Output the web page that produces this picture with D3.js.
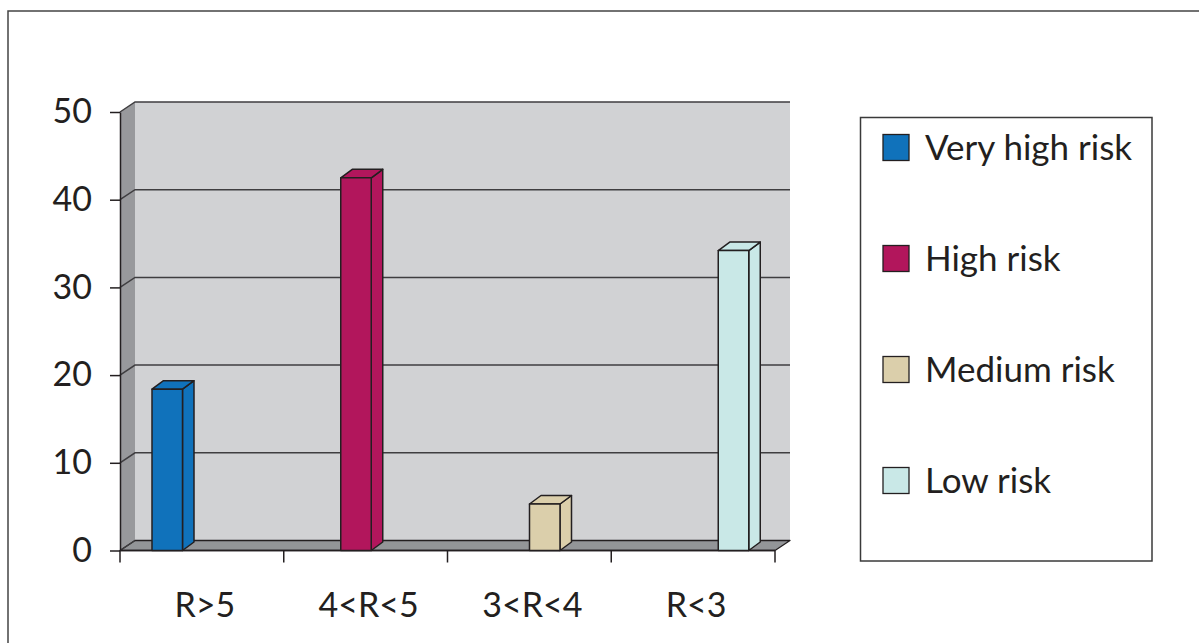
<!DOCTYPE html>
<html>
<head>
<meta charset="utf-8">
<script src="https://cdn.jsdelivr.net/npm/d3@7"></script>
<style>
  html, body { margin: 0; padding: 0; background: #fff; }
  svg { display: block; }
  text { font-family: Lato, "Open Sans", sans-serif; fill: #231f20; }
</style>
</head>
<body>
<svg id="chart" width="1199" height="643"></svg>
<script>
// ---- data ----
const categories = ["R>5", "4<R<5", "3<R<4", "R<3"];
const seriesNames = ["Very high risk", "High risk", "Medium risk", "Low risk"];
const seriesValues = [18.4, 42.5, 5.3, 34.2];   // each series has a value only in its own category
const seriesCategory = ["R>5", "4<R<5", "3<R<4", "R<3"];
const seriesColors = ["#1072bb", "#b2165c", "#dbcfab", "#c9e8e7"];
const yTickValues = [0, 10, 20, 30, 40, 50];

// ---- layout ----
const svg = d3.select("#chart");
const W = 1199, H = 643;
const line = "#231f20";
const wallDepth = { dx: 15, dy: -10 };
const barDepth = { dx: 11.5, dy: -8.5 };
const barWidth = 30.5;

const x = d3.scaleBand().domain(categories).range([120, 775]).padding(0);
const inner = d3.scalePoint().domain(seriesNames).range([32, 107]);
const y = d3.scaleLinear().domain([0, 50]).range([550.5, 112]);

const x0 = x.range()[0], x1 = x.range()[1];
const yb = y(0), yt = y(50);

// outer frame (top + left)
svg.append("path")
  .attr("d", `M8,${H}V11H${W}`)
  .attr("fill", "none").attr("stroke", "#444").attr("stroke-width", 1.5);

// back wall
svg.append("rect")
  .attr("x", x0 + wallDepth.dx).attr("y", yt + wallDepth.dy)
  .attr("width", x1 - x0).attr("height", yb - yt)
  .attr("fill", "#d1d2d4");

// side wall
svg.append("polygon")
  .attr("points", [[x0, yt], [x0 + wallDepth.dx, yt + wallDepth.dy],
                   [x0 + wallDepth.dx, yb + wallDepth.dy], [x0, yb]].join(" "))
  .attr("fill", "#98999c");

// floor
svg.append("polygon")
  .attr("points", [[x0, yb], [x0 + wallDepth.dx, yb + wallDepth.dy],
                   [x1 + wallDepth.dx, yb + wallDepth.dy], [x1, yb]].join(" "))
  .attr("fill", "#939598")
  .attr("stroke", line).attr("stroke-width", 1.3).attr("stroke-linejoin", "round");

// gridlines (back wall + side wall diagonal)
const grid = svg.append("g");
yTickValues.forEach(v => {
  const yy = y(v);
  grid.append("path")
    .attr("d", `M${x0},${yy}L${x0 + wallDepth.dx},${yy + wallDepth.dy}` +
               (v > 0 ? `H${x1 + wallDepth.dx}` : ""))
    .attr("fill", "none").attr("stroke", "#3f3e40").attr("stroke-width", 1.5);
});

// y axis
const yAxis = svg.append("g")
  .attr("transform", `translate(${x0},0)`)
  .call(d3.axisLeft(y).tickValues(yTickValues).tickSize(10).tickSizeOuter(0).tickPadding(18));
yAxis.select(".domain").attr("stroke", line).attr("stroke-width", 1.5);
yAxis.selectAll(".tick line").attr("stroke", line).attr("stroke-width", 1.5);
yAxis.selectAll(".tick text")
  .style("font-family", "Lato, 'Open Sans', sans-serif")
  .attr("font-size", 34).attr("fill", "#231f20");

// x axis: baseline, ticks at band edges, labels centered
svg.append("line")
  .attr("x1", x0).attr("x2", x1).attr("y1", yb).attr("y2", yb)
  .attr("stroke", line).attr("stroke-width", 1.5);
const edges = categories.map(c => x(c)).concat([x1]);
svg.selectAll(".xtick").data(edges).join("line")
  .attr("class", "xtick")
  .attr("x1", d => d).attr("x2", d => d)
  .attr("y1", yb).attr("y2", yb + 12)
  .attr("stroke", line).attr("stroke-width", 1.5);
svg.selectAll(".xlabel").data(categories).join("text")
  .attr("class", "xlabel")
  .attr("x", d => x(d) + x.bandwidth() / 2 + 3)
  .attr("y", 617)
  .attr("text-anchor", "middle")
  .attr("font-size", 34)
  .text(d => d);

// 3D bars
const bars = seriesNames.map((s, i) => ({
  name: s, value: seriesValues[i], cat: seriesCategory[i], color: seriesColors[i]
}));
const barG = svg.append("g");
bars.forEach(b => {
  const bx = x(b.cat) + inner(b.name);
  const by = y(b.value);
  const g = barG.append("g")
    .attr("fill", b.color).attr("stroke", line).attr("stroke-width", 1.5)
    .attr("stroke-linejoin", "round");
  // side face
  g.append("polygon").attr("points", [
    [bx + barWidth, yb], [bx + barWidth + barDepth.dx, yb + barDepth.dy],
    [bx + barWidth + barDepth.dx, by + barDepth.dy], [bx + barWidth, by]].join(" "));
  // top face
  g.append("polygon").attr("points", [
    [bx, by], [bx + barDepth.dx, by + barDepth.dy],
    [bx + barWidth + barDepth.dx, by + barDepth.dy], [bx + barWidth, by]].join(" "));
  // front face
  g.append("rect").attr("x", bx).attr("y", by)
    .attr("width", barWidth).attr("height", yb - by);
});

// legend
const legend = svg.append("g");
legend.append("rect")
  .attr("x", 860.5).attr("y", 117.5).attr("width", 291.5).attr("height", 443.5)
  .attr("fill", "#fff").attr("stroke", "#3a3a3a").attr("stroke-width", 1.5);
const legendStep = 111;
const li = legend.selectAll(".li").data(bars).join("g")
  .attr("class", "li")
  .attr("transform", (d, i) => `translate(0,${i * legendStep})`);
li.append("rect")
  .attr("x", 883).attr("y", 134.5).attr("width", 26).attr("height", 26)
  .attr("fill", d => d.color).attr("stroke", line).attr("stroke-width", 1.3);
li.append("text")
  .attr("x", 925).attr("y", 160)
  .attr("font-size", 35)
  .text(d => d.name);
</script>
</body>
</html>
